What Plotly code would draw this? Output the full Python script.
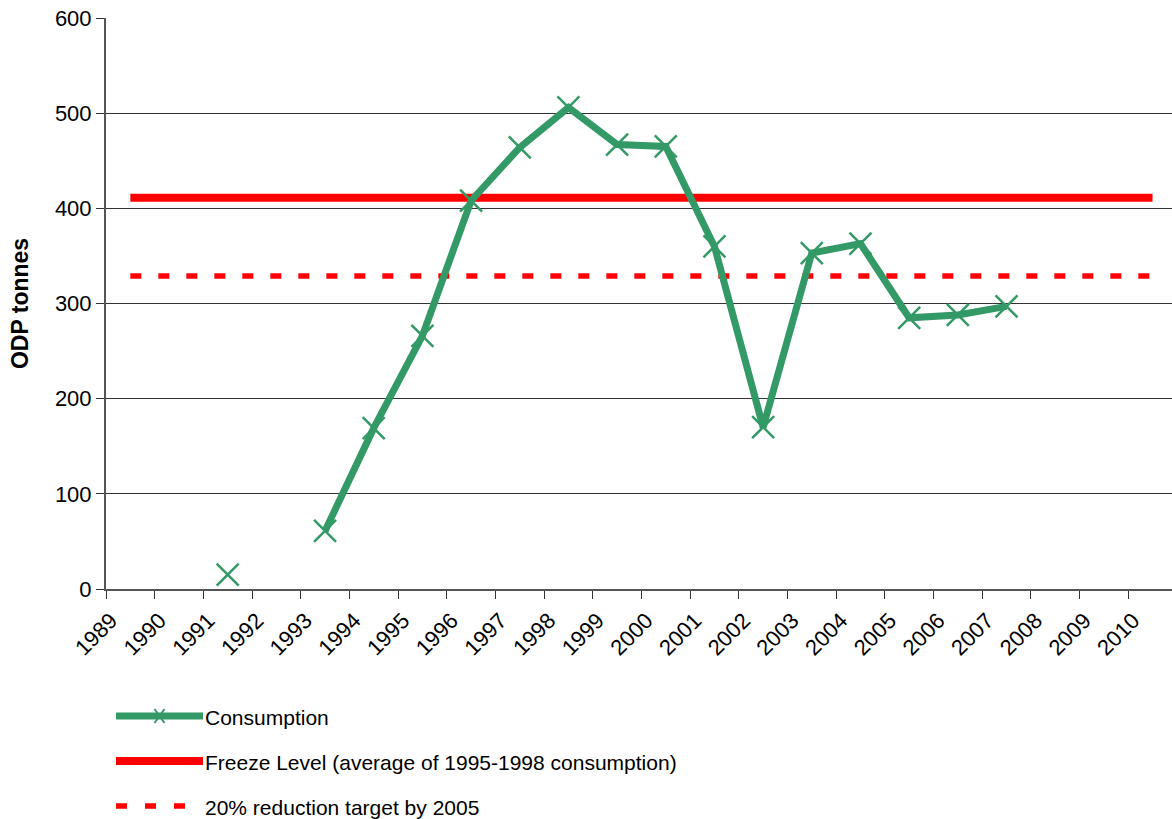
import plotly.graph_objects as go

years = list(range(1989, 2011))
cons_years = [1991, 1992, 1993, 1994, 1995, 1996, 1997, 1998, 1999, 2000, 2001, 2002, 2003, 2004, 2005, 2006, 2007]
consumption = [15, None, 61, 169, 266, 408, 464, 506, 467, 465, 360, 170, 353, 363, 285, 288, 297]
freeze_level = 411
reduction_target = 329
line_years = [1989, 2010]

GREEN = "#339966"
RED = "#FF0000"
FONT = "Liberation Sans, Arial, sans-serif"

fig = go.Figure()
xc = [y + 0.5 for y in cons_years]
fig.add_trace(go.Scatter(
    x=[y + 0.5 for y in line_years], y=[freeze_level] * 2, mode="lines",
    line=dict(color=RED, width=8), showlegend=False))
fig.add_trace(go.Scatter(
    x=[y + 0.5 for y in line_years], y=[reduction_target] * 2, mode="lines",
    line=dict(color=RED, width=5.5, dash="11px,17px"), showlegend=False))
fig.add_trace(go.Scatter(
    x=xc, y=consumption, mode="lines+markers",
    line=dict(color=GREEN, width=7),
    marker=dict(symbol="x-thin", size=22, line=dict(color=GREEN, width=2.5), color=GREEN),
    connectgaps=False, showlegend=False))

# custom legend (plot area: x 106..1172 px, y 18..589 px)
PW, PH = 1066.0, 571.0
def px(xp):
    return (xp - 106) / PW
def py(yp):
    return (589 - yp) / PH

legend_items = [
    ("Consumption", dict(color=GREEN, width=7), True, 716),
    ("Freeze Level (average of 1995-1998 consumption)", dict(color=RED, width=8), False, 761),
    ("20% reduction target by 2005", dict(color=RED, width=5.5, dash="11px,18px"), False, 806),
]
LX0, LX1, TX = 116, 203, 203
for label, ln, mk, yy in legend_items:
    fig.add_shape(type="line", xref="paper", yref="paper", x0=px(LX0), x1=px(LX1),
                  y0=py(yy), y1=py(yy), line=ln)
    if mk:
        cx = (LX0 + LX1) / 2
        fig.add_shape(type="line", xref="paper", yref="paper", x0=px(cx - 5), x1=px(cx + 5),
                      y0=py(yy - 7), y1=py(yy + 7), line=dict(color=GREEN, width=2))
        fig.add_shape(type="line", xref="paper", yref="paper", x0=px(cx - 5), x1=px(cx + 5),
                      y0=py(yy + 7), y1=py(yy - 7), line=dict(color=GREEN, width=2))
    fig.add_annotation(xref="paper", yref="paper", x=px(TX), y=py(yy + 1), text=label, showarrow=False,
                       xanchor="left", yanchor="middle", font=dict(size=21, color="black", family=FONT))

fig.update_layout(
    width=1172, height=819,
    margin=dict(l=106, r=0, t=18, b=230),
    plot_bgcolor="white", paper_bgcolor="white",
    font=dict(family=FONT, color="black"),
)
fig.update_xaxes(
    range=[1989, 2010.9], tickmode="array", tickvals=years, ticktext=[str(y) for y in years],
    tickangle=-45, tickfont=dict(size=22), ticks="outside", ticklen=8, tickcolor="#333",
    ticklabelshift=5,
    showline=True, linecolor="#555", linewidth=2, showgrid=False, zeroline=False,
    automargin=False,
)
fig.update_yaxes(
    range=[0, 600], tickvals=[0, 100, 200, 300, 400, 500, 600], tickfont=dict(size=22),
    ticks="outside", ticklen=8, tickcolor="#333",
    showline=True, linecolor="#555", linewidth=2,
    showgrid=True, gridcolor="#333", gridwidth=1, zeroline=False,
    title=dict(text="<b>ODP tonnes</b>", font=dict(size=23), standoff=20),
    automargin=False,
)
fig.write_html(
    "out.html",
    config={"displayModeBar": False},
    post_script="document.body.style.margin='0';document.body.style.overflow='hidden';",
)
